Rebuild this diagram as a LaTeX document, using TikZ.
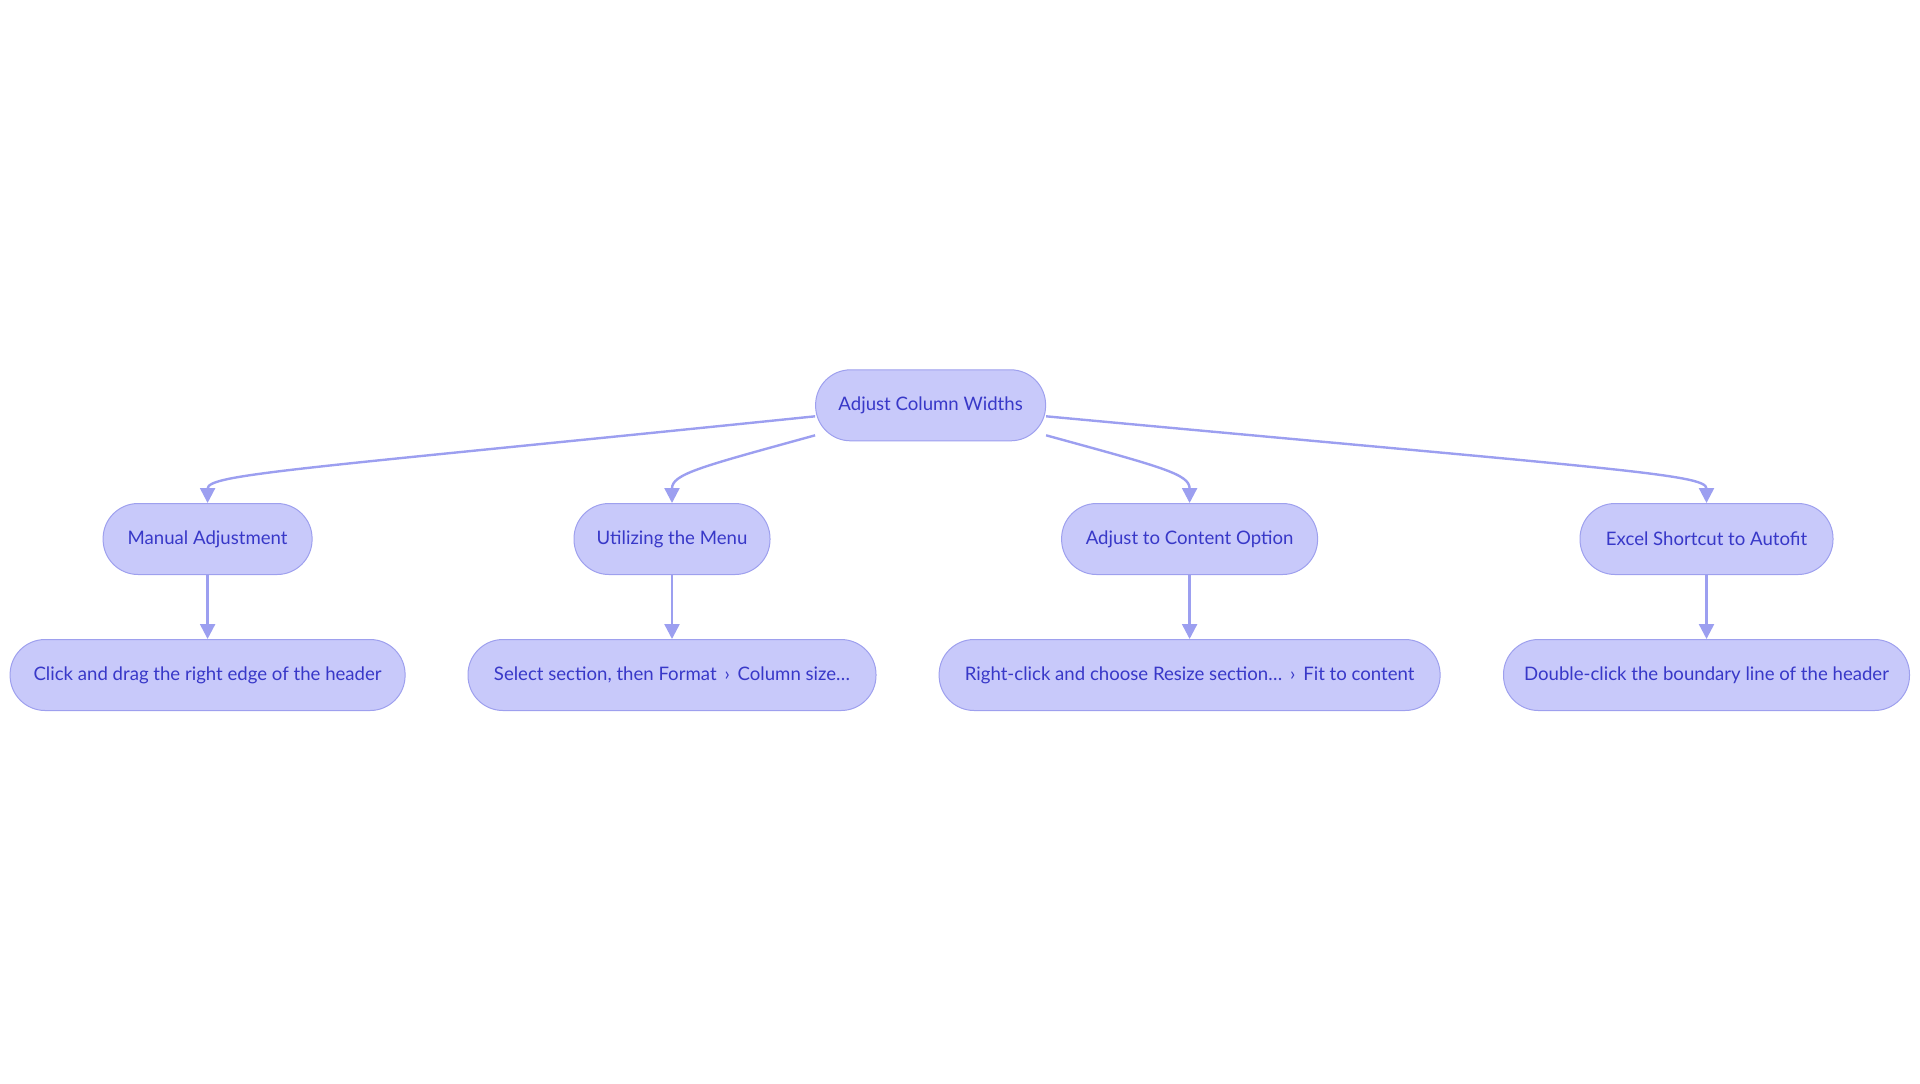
\documentclass[tikz,border=0pt]{standalone}
\usepackage{fontspec}
\setmainfont{Lato}
\usetikzlibrary{positioning}
\usetikzlibrary{arrows.meta}
\usetikzlibrary{calc}
\definecolor{pillfill}{RGB}{200,201,250}
\definecolor{pilldraw}{RGB}{158,160,238}
\definecolor{pilltext}{RGB}{56,56,200}
\definecolor{edgecol}{RGB}{156,159,240}
\tikzset{
    pillnode/.style = {rectangle, rounded corners=17.5pt, draw=pilldraw, line width=0.5pt, fill=pillfill,
                       text=pilltext, minimum height=35.5pt, inner sep=0pt, align=center,
                       font=\fontsize{9.3}{11}\selectfont},
    edgep/.style = {-{Triangle[length=7.5pt,width=7.5pt]}, line width=1.2pt, draw=edgecol},
}

\begin{document}
\begin{tikzpicture}[x=0.5pt,y=-0.5pt]
  \useasboundingbox (0,0) rectangle (1920,1083);

  \node[pillnode, minimum width=115pt] at (930.6,405.3) (root) {Adjust Column Widths};

  \node[pillnode, minimum width=104.5pt] at (207.6,539) (m1) {Manual Adjustment};
  \node[pillnode, minimum width=98pt]    at (672,539)   (m2) {Utilizing the Menu};
  \node[pillnode, minimum width=128pt]   at (1189.6,539) (m3) {Adjust to Content Option};
  \node[pillnode, minimum width=126.5pt] at (1706.5,539) (m4) {Excel Shortcut to Autofit};

  \node[pillnode, minimum width=197.5pt, below=32pt of m1] (l1) {Click and drag the right edge of the header};
  \node[pillnode, minimum width=204pt,   below=32pt of m2] (l2) {Select section, then Format \,›\, Column size…};
  \node[pillnode, minimum width=250.5pt, below=32pt of m3] (l3) {Right-click and choose Resize section… \,›\, Fit to content};
  \node[pillnode, minimum width=203pt,   below=32pt of m4] (l4) {Double-click the boundary line of the header};

  % root to the four ways
  \draw[edgep] ($(root.west)+(0,11)$) .. controls ($(m1.north)+(93,-34)$) and ($(m1.north)+(0,-29)$) .. (m1.north);
  \draw[edgep] ($(root.south west)+(0,-6)$) .. controls ($(m2.north)+(28,-36)$) and ($(m2.north)+(0,-29)$) .. (m2.north);
  \draw[edgep] ($(root.south east)+(0,-6)$) .. controls ($(m3.north)+(-28,-36)$) and ($(m3.north)+(0,-29)$) .. (m3.north);
  \draw[edgep] ($(root.east)+(0,11)$) .. controls ($(m4.north)+(-93,-34)$) and ($(m4.north)+(0,-29)$) .. (m4.north);

  \draw[edgep] (m1) -- (l1);
  \draw[edgep] (m2) -- (l2);
  \draw[edgep] (m3) -- (l3);
  \draw[edgep] (m4) -- (l4);

\end{tikzpicture}
\end{document}
